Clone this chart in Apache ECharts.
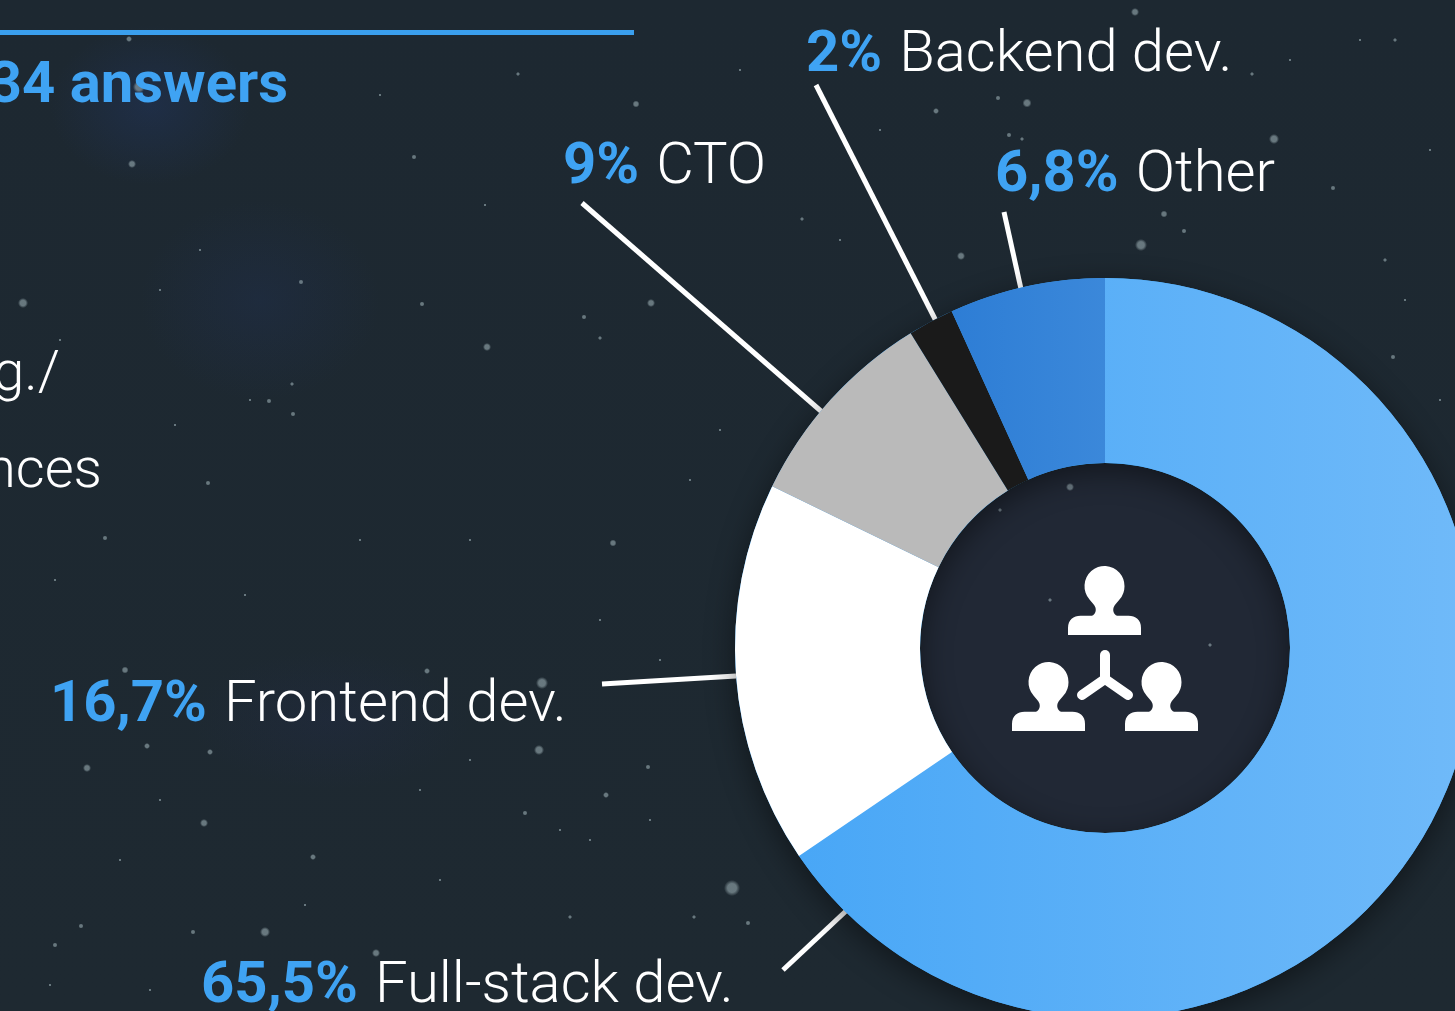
<!DOCTYPE html>
<html><head><meta charset="utf-8">
<style>html,body{margin:0;padding:0;background:#1e2932;overflow:hidden}#c{width:1455px;height:1011px}</style>
<script src="https://cdn.jsdelivr.net/npm/echarts@6/dist/echarts.min.js"></script>
</head><body><div id="c"></div>
<script>
const categories = ['Full-stack dev.', 'Frontend dev.', 'CTO', 'Backend dev.', 'Other'];
const shares = [65.5, 16.7, 9, 2, 6.8];
const shareLabels = ['65,5%', '16,7%', '9%', '2%', '6,8%'];
const surveyLine = '34 answers';
const clippedText = ['g./', 'nces'];
const sky = [[1135,12,4],[1027,103,4.5],[998,98,2.5],[936,111,3],[1009,135,2.5],[1022,139,2],[1274,139,5],[1164,214,3.5],[1184,231,2.5],[1141,245,6],[961,256,4],[1252,74,2],[802,219,2],[129,39,3],[132,164,4],[139,87,6],[636,104,3.5],[518,74,2],[414,157,2.5],[651,303,4],[422,304,2.5],[584,317,2.5],[600,338,2],[301,282,2.5],[23,303,5],[487,347,4],[292,384,2],[269,401,2.5],[293,414,2.5],[208,483,2.5],[105,538,2.5],[613,543,3.5],[125,670,3.5],[427,671,3],[542,683,6],[147,746,3],[210,752,3],[87,768,4],[539,750,5],[204,823,4],[313,857,3],[732,888,8],[265,932,5],[81,926,2.5],[193,932,2.5],[376,953,4],[55,945,2.5],[648,767,2.5],[606,795,3],[525,813,2.5],[570,917,2],[694,917,2],[748,923,2.5],[1393,357,2.5],[1333,188,2.5],[1385,260,2],[1070,487,4],[1050,600,2],[1000,510,2],[1210,645,2],[1040,690,2],[1395,40,2],[1300,360,2],
 [380,95,1.5],[485,205,1.5],[200,250,1.5],[160,290,1.5],[250,400,1.5],[175,425,1.5],[60,340,1.5],[50,470,1.5],[360,540,1.5],[470,540,1.5],[245,595,1.5],[55,580,1.5],[600,620,1.5],[660,660,1.5],[160,800,1.5],[420,790,1.5],[470,760,1.5],[560,830,1.5],[590,840,1.5],[650,820,1.5],[440,880,1.5],[120,860,1.5],[305,905,1.5],[150,990,1.5],[50,985,1.5],[1430,150,1.5],[1405,300,1.5],[1440,400,1.5],[1360,40,1.5],[1290,60,1.5],[880,130,1.5],[740,70,1.5],[840,240,1.5],[690,480,1.5],[720,430,1.5]];
document.body.style.background = sky.map(s => `radial-gradient(circle ${s[2]}px at ${s[0]}px ${s[1]}px, rgba(165,185,190,.55) 55%, rgba(165,185,190,0) 100%)`).concat([
  'radial-gradient(ellipse 100px 80px at 150px 105px, rgba(35,60,120,.3), rgba(35,60,120,0))',
  'radial-gradient(ellipse 120px 100px at 260px 300px, rgba(35,55,110,.2), rgba(35,55,110,0))',
  'radial-gradient(ellipse 140px 70px at 330px 720px, rgba(40,45,100,.15), rgba(40,45,100,0))',
  'radial-gradient(circle 185px at 1105px 648px, #212835, #212835 99%, rgba(33,40,53,0))',
  'linear-gradient(#1d2831,#1e2931)'
]).join(',');

const font = 'Roboto,"Open Sans",sans-serif';
const blue = '#3fa3f3';
const spots = [
  {x:201,y:1016,line:[[846,911],[783,970]]},
  {x:50,y:735,line:[[736,676],[602,684]]},
  {x:563,y:197,line:[[822,412],[582,203]]},
  {x:806,y:85,line:[[936,321],[816,85]]},
  {x:995,y:205,line:[[1021,289],[1004,212]]}
];
const fills = [
  {type:'linear',x:735,y:0,x2:1475,y2:0,global:true,colorStops:[{offset:0,color:'#45a5f6'},{offset:1,color:'#70baf9'}]},
  '#ffffff','#bababa','#1a1a1a',
  {type:'linear',x:950,y:0,x2:1105,y2:0,global:true,colorStops:[{offset:0,color:'#2d7dd5'},{offset:1,color:'#3b88da'}]}
];
const personPath = 'M-36.5,49 L-36.5,42 C-36.5,34 -31,30 -24,30 L-14,30 C-10,30 -8,26 -9,22 C-10,19 -13,17 -15,14 A20,20 0 1 1 15,14 C13,17 10,19 9,22 C8,26 10,30 14,30 L24,30 C31,30 36.5,34 36.5,42 L36.5,49 Z';
const person = (x,y) => ({type:'path',x,y,shape:{pathData:personPath,x:-36.5,y:-20,width:73,height:69,layout:'cover'},style:{fill:'#fff'}});

const chart = echarts.init(document.getElementById('c'),null,{renderer:'canvas'});
chart.setOption({
  backgroundColor:'transparent',
  animation:false,
  graphic:[
    {type:'rect',shape:{x:0,y:30,width:634,height:5},style:{fill:'#3a9fee'}},
    {type:'text',style:{text:surveyLine,x:288,y:58,align:'right',verticalAlign:'top',fill:blue,font:'bold 58px '+font}},
    {type:'text',style:{text:clippedText[0],x:60,y:348,align:'right',verticalAlign:'top',fill:'#fff',font:'300 56px '+font}},
    {type:'text',style:{text:clippedText[1],x:102,y:445,align:'right',verticalAlign:'top',fill:'#fff',font:'300 56px '+font}}
  ],
  series:[
    {type:'pie',silent:true,center:[1105,648],radius:[185,370],startAngle:90,label:{show:false},labelLine:{show:false},
     data:[{value:100,itemStyle:{color:'#3fa3f3',shadowBlur:30,shadowOffsetY:8,shadowColor:'rgba(0,0,0,.45)'}}]},
    {type:'pie',silent:true,center:[1105,648],radius:[185,370],startAngle:90,clockwise:true,minShowLabelAngle:0,avoidLabelOverlap:false,
     data:categories.map((c,i)=>({name:c,value:shares[i],itemStyle:{color:fills[i]}})),
     label:{show:true,position:'outer',alignTo:'none',formatter:p=>`{a|${shareLabels[p.dataIndex]}}{s|}{b|${p.name}}`,
       rich:{a:{fontFamily:font,fontWeight:'bold',fontSize:58,color:blue},s:{width:17,height:1},b:{fontFamily:font,fontWeight:300,fontSize:58,color:'#fff'}}},
     labelLine:{show:true,length:10,length2:10,lineStyle:{color:'#fff',width:5}},
     labelLayout:p=>{const s=spots[p.dataIndex];return {x:s.x,y:s.y,align:'left',verticalAlign:'bottom',labelLinePoints:s.line};}
    },
    {type:'custom',coordinateSystem:'none',silent:true,data:[[0]],
     renderItem:()=>({type:'group',children:[
       person(1104.5,586),person(1048.5,682),person(1161.5,682),
       {type:'polyline',shape:{points:[[1105,655],[1105,679]]},style:{stroke:'#fff',lineWidth:10,lineCap:'round',fill:null}},
       {type:'polyline',shape:{points:[[1082,695],[1105,679],[1128,695]]},style:{stroke:'#fff',lineWidth:10,lineCap:'round',lineJoin:'round',fill:null}}
     ]})}
  ]
});
</script></body></html>
